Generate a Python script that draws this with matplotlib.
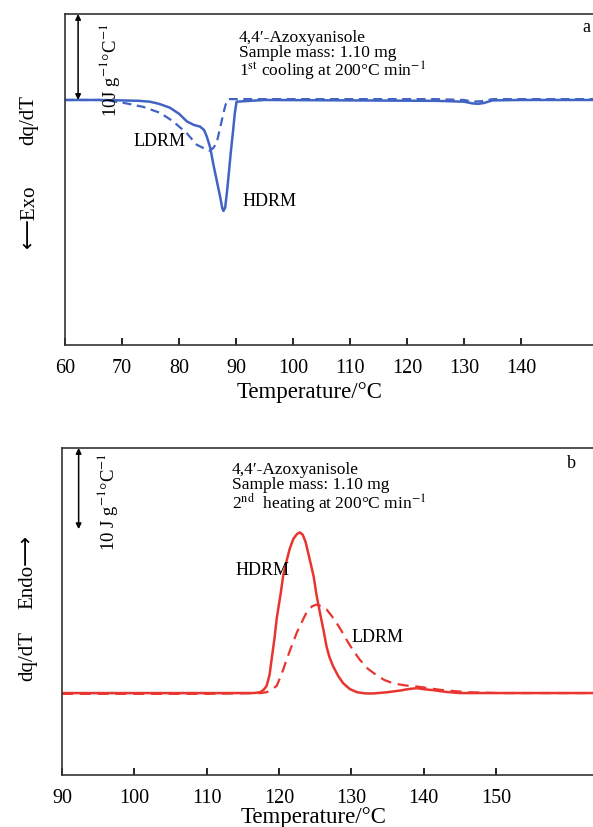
import matplotlib.pyplot as plt

plt.rcParams['font.family'] = ['Liberation Serif', 'DejaVu Serif']
plt.rcParams['mathtext.fontset'] = 'stix'

# (a) 1st cooling, dq/dT (J g-1 C-1), baseline = 0
cool_hdrm_T = [60, 66, 70, 73, 74.9, 76.5, 78.4, 80, 81.4, 82.6, 83.7, 84.4, 84.9, 85.5, 86.0,
               86.6, 87.2, 87.6, 87.8, 88.1, 88.4, 88.7, 89.1, 89.5, 89.8, 90.1, 95, 110, 125, 130,
               131.5, 132.5, 133.5, 135, 140, 153]
cool_hdrm_y = [0, 0, -0.05, -0.1, -0.2, -0.45, -0.9, -1.6, -2.5, -2.9, -3.1, -3.5, -4.3, -5.6, -7.4,
               -9.3, -11.2, -12.6, -12.9, -12.5, -10.8, -8.8, -6.0, -3.5, -1.5, -0.2, 0, -0.05, -0.1, -0.2,
               -0.4, -0.45, -0.35, -0.05, 0, 0]

cool_ldrm_T = [60, 66, 67.9, 70.8, 73.7, 76.7, 79, 81.4, 83.1, 84.9, 85.4, 86.0, 86.6, 87.2, 87.8,
               88.2, 88.6, 95, 125, 130, 131.5, 133, 135, 153]
cool_ldrm_y = [0, 0, -0.1, -0.4, -0.8, -1.5, -2.5, -3.9, -5.2, -5.8, -5.9, -5.6, -5.0, -3.3, -1.5,
               -0.5, 0.1, 0.1, 0.1, 0, -0.2, -0.15, 0.1, 0.1]

# (b) 2nd heating
heat_hdrm_T = [90, 110, 116.5, 117.4, 117.9, 118.3, 118.7, 119.0, 119.4, 119.7, 120.2, 120.6,
               121.1, 121.5, 122.0, 122.5, 122.9, 123.3, 123.7, 124.2, 124.8, 125.2, 125.7,
               126.2, 126.6, 127.0, 127.5, 128.2, 128.9, 129.8, 130.8, 132.0, 133.1, 135,
               136.7, 138.0, 139.1, 140.3, 141.4, 143, 145.0, 155, 165]
heat_hdrm_y = [0, 0, 0, 0.1, 0.4, 0.9, 2.2, 4.2, 6.8, 9.2, 12.0, 14.5,
               16.4, 17.8, 19.0, 19.6, 19.8, 19.5, 18.6, 16.7, 14.4, 12.1, 9.8,
               7.6, 5.7, 4.4, 3.3, 2.1, 1.2, 0.5, 0.1, -0.05, -0.05, 0.1,
               0.3, 0.5, 0.6, 0.45, 0.35, 0.15, 0, 0, 0]

heat_ldrm_T = [90, 110, 117.5, 118.3, 119.0, 119.7, 120.4, 121.1, 121.8, 122.5, 123.2, 123.8,
               124.6, 125.2, 125.9, 126.6, 127.3, 128.0, 128.7, 129.4, 130.3, 131.2, 132.3,
               133.5, 134.6, 135.8, 137.4, 139.1, 142.3, 146.0, 150.6, 165]
heat_ldrm_y = [-0.1, -0.1, 0, 0.1, 0.4, 0.9, 2.4, 4.2, 5.9, 7.5, 8.8, 9.9,
               10.7, 10.9, 10.7, 10.3, 9.5, 8.6, 7.6, 6.5, 5.2, 4.1, 3.0,
               2.2, 1.6, 1.2, 0.95, 0.8, 0.4, 0.1, 0, 0]

blue = '#4063c4'
red = '#e8352f'
W, H = 593, 827

fig = plt.figure(figsize=(5.93, 8.27), dpi=100)


def place(l, t, r, b):
    return [l / W, 1 - b / H, (r - l) / W, (b - t) / H]


def style(ax, ticks):
    ax.set_xticks(ticks)
    ax.set_yticks([])
    ax.tick_params(axis='x', direction='in', length=5, width=1.2, labelsize=14.5, pad=10)
    for s in ax.spines.values():
        s.set_linewidth(1.2)
        s.set_color('#333333')
    ax.spines['right'].set_visible(False)


# panel a
ax1 = fig.add_axes(place(65, 14, 600, 345))
ax1.plot(cool_hdrm_T, cool_hdrm_y, color=blue, lw=1.8)
ax1.plot(cool_ldrm_T, cool_ldrm_y, color=blue, lw=1.6, ls=(0, (4, 2.5)))
ax1.set_xlim(60, 60 + 535 / 5.7)
ax1.set_ylim(-28.5, 10)
style(ax1, range(60, 150, 10))
ax1.annotate('', xy=(62.3, 10), xytext=(62.3, 0),
             arrowprops=dict(arrowstyle='<|-|>', color='black', lw=1.1, mutation_scale=8,
                             shrinkA=0, shrinkB=0))
ax1.text(67.8, 3.5, r'10J g$^{-1}$°C$^{-1}$', rotation=90, fontsize=13.5, ha='center', va='center')
ax1.text(90.5, 8.1, '4,4\u2032-Azoxyanisole\nSample mass: 1.10 mg\n1$^{\\rm st}$ cooling at 200°C min$^{-1}$',
         fontsize=12.5, va='top', ha='left', linespacing=0.92)
ax1.text(151.5, 8.4, 'a', fontsize=13, ha='center', va='center')
ax1.text(76.6, -4.8, 'LDRM', fontsize=13, ha='center', va='center')
ax1.text(91.2, -11.8, 'HDRM', fontsize=13, ha='left', va='center')
fig.text(310 / W, 1 - 393 / H, 'Temperature/°C', fontsize=16.5, ha='center', va='center')
fig.text(29 / W, 1 - 120 / H, 'dq/dT', rotation=90, fontsize=15, ha='center', va='center')
fig.text(29 / W, 1 - 216 / H, '\u27f5Exo', rotation=90, fontsize=15, ha='center', va='center',
         family=['Liberation Serif', 'DejaVu Sans'])

# panel b
ax2 = fig.add_axes(place(62, 448, 600, 775))
ax2.plot(heat_hdrm_T, heat_hdrm_y, color=red, lw=1.8)
ax2.plot(heat_ldrm_T, heat_ldrm_y, color=red, lw=1.6, ls=(0, (5, 3)))
ax2.set_xlim(90, 90 + 538 / 7.23)
ax2.set_ylim(-10.1, 30.2)
style(ax2, range(90, 160, 10))
ax2.annotate('', xy=(92.3, 30.2), xytext=(92.3, 20.2),
             arrowprops=dict(arrowstyle='<|-|>', color='black', lw=1.1, mutation_scale=8,
                             shrinkA=0, shrinkB=0))
ax2.text(96.3, 23.5, r'10 J g$^{-1}$°C$^{-1}$', rotation=90, fontsize=13.5, ha='center', va='center')
ax2.text(113.5, 28.5, '4,4\u2032-Azoxyanisole\nSample mass: 1.10 mg\n2$^{\\rm nd}$  heating at 200°C min$^{-1}$',
         fontsize=12.5, va='top', ha='left', linespacing=0.92)
ax2.text(160.5, 28.3, 'b', fontsize=13, ha='center', va='center')
ax2.text(117.8, 15.1, 'HDRM', fontsize=13, ha='center', va='center')
ax2.text(133.6, 6.9, 'LDRM', fontsize=13, ha='center', va='center')
fig.text(314 / W, 1 - 817 / H, 'Temperature/°C', fontsize=16.5, ha='center', va='center')
fig.text(28 / W, 1 - 656 / H, 'dq/dT', rotation=90, fontsize=15, ha='center', va='center')
fig.text(28 / W, 1 - 572 / H, 'Endo\u27f6', rotation=90, fontsize=15, ha='center', va='center',
         family=['Liberation Serif', 'DejaVu Sans'])

fig.savefig('out.png', dpi=100)
